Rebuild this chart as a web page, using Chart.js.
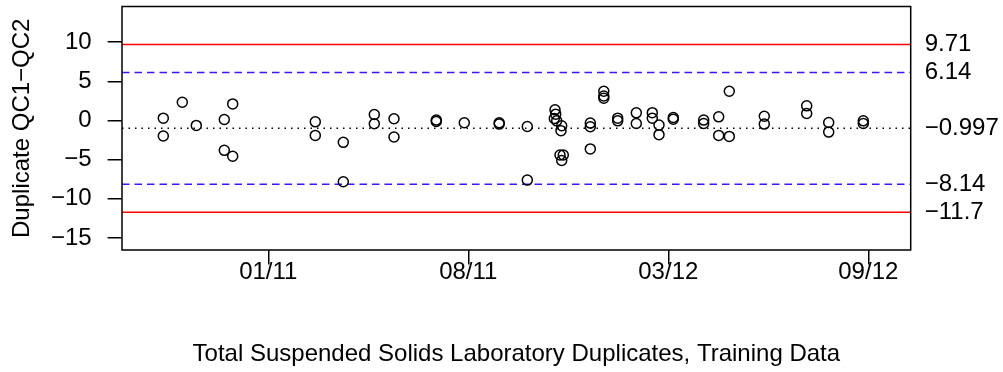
<!DOCTYPE html>
<html>
<head>
<meta charset="utf-8">
<script src="https://cdn.jsdelivr.net/npm/chart.js@4"></script>
<style>
  html, body { margin: 0; padding: 0; background: #fff; }
  #wrap { width: 1003px; height: 372px; }
</style>
</head>
<body>
<div id="wrap"><canvas id="qcChart" width="1003" height="372"></canvas></div>
<script>
// sample time, in units of the x tick spacing (0 = 01/11, 1 = 08/11, ...)
var sampleTime = [
  -0.525, -0.525, -0.43, -0.36, -0.22, -0.22, -0.178, -0.178,
  0.235, 0.235, 0.375, 0.375, 0.53, 0.53, 0.6285, 0.6285,
  0.84, 0.84, 0.98, 1.1545, 1.1545, 1.295, 1.295,
  1.4335, 1.437, 1.43, 1.442, 1.467, 1.4635, 1.4585, 1.475, 1.467,
  1.61, 1.61, 1.61, 1.6775, 1.6775, 1.6775, 1.747, 1.747,
  1.84, 1.84, 1.92, 1.92, 1.9535, 1.9535, 2.025, 2.025,
  2.177, 2.177, 2.252, 2.252, 2.305, 2.305, 2.48, 2.48,
  2.692, 2.692, 2.802, 2.802, 2.975, 2.975
];
// duplicate difference QC1 - QC2
var qcDiff = [
  0.3, -1.98, 2.33, -0.63, 0.13, -3.81, 2.12, -4.57,
  -0.17, -1.9, -2.79, -7.82, 0.76, -0.42, 0.22, -2.11,
  0.05, -0.13, -0.29, -0.29, -0.46, -0.76, -7.61,
  1.36, 0.81, 0.25, -0.04, -0.67, -1.3, -4.4, -4.4, -5.1,
  -0.33, -0.8, -3.63, 3.73, 3.13, 2.84, 0.3, -0.04,
  0.98, -0.38, 1.0, 0.3, -0.59, -1.81, 0.38, 0.17,
  0.05, -0.38, 0.47, -1.9, 3.73, -2.03, 0.55, -0.46,
  1.87, 0.89, -0.25, -1.48, -0.04, -0.38
];

var xTickPos = [0, 1, 2, 3];
var xTickLabels = ['01/11', '08/11', '03/12', '09/12'];
var yTickPos = [-15, -10, -5, 0, 5, 10];

// control limits
var centerLine = -0.997;
var warnLimits = [6.14, -8.14];
var ctrlLimits = [9.71, -11.7];
var limitLabels = ['9.71', '6.14', '\u22120.997', '\u22128.14', '\u221211.7'];
var limitValues = [9.71, 6.14, -0.997, -8.14, -11.7];

var X_MIN = -0.7315, X_MAX = 3.212;
var Y_MIN = -16.535, Y_MAX = 14.556;

var FONT = { family: '"Liberation Sans", Arial, Helvetica, sans-serif', size: 24 };

function minus(v) { return String(v).replace('-', '\u2212'); }

function hline(v, color, dash) {
  return {
    type: 'line',
    data: [{ x: X_MIN, y: v }, { x: X_MAX, y: v }],
    borderColor: color,
    borderWidth: 1.5,
    borderDash: dash,
    pointRadius: 0,
    fill: false
  };
}

// no extra room for half labels, the plot box is fixed
function noPad(s) { s.paddingTop = 0; s.paddingBottom = 0; s.paddingLeft = 0; s.paddingRight = 0; }

var points = sampleTime.map(function(t, i) { return { x: t, y: qcDiff[i] }; });

var datasets = [{
  type: 'scatter',
  data: points,
  borderColor: '#000',
  backgroundColor: 'rgba(0,0,0,0)',
  borderWidth: 1.5,
  pointRadius: 5,
  pointHoverRadius: 5
}];
ctrlLimits.forEach(function(v) { datasets.push(hline(v, '#ff0000', [])); });
warnLimits.forEach(function(v) { datasets.push(hline(v, '#4212ff', [7.5, 5])); });
datasets.push(hline(centerLine, '#000', [1.5, 5]));

// box round the plot region, R style
var boxPlugin = {
  id: 'box',
  afterDraw: function(chart) {
    var a = chart.chartArea, c = chart.ctx;
    c.save();
    c.strokeStyle = '#000';
    c.lineWidth = 1.5;
    c.strokeRect(a.left, a.top, a.right - a.left, a.bottom - a.top);
    c.restore();
  }
};

new Chart(document.getElementById('qcChart').getContext('2d'), {
  data: { datasets: datasets },
  options: {
    responsive: false,
    animation: false,
    devicePixelRatio: 1,
    layout: { padding: { top: 5, left: 0, right: 0, bottom: 0 } },
    plugins: { legend: { display: false }, tooltip: { enabled: false } },
    scales: {
      x: {
        type: 'linear', position: 'bottom', min: X_MIN, max: X_MAX,
        afterBuildTicks: function(s) { s.ticks = xTickPos.map(function(v) { return { value: v }; }); },
        afterFit: function(s) { s.height = 122; noPad(s); },
        grid: { drawOnChartArea: false, drawTicks: true, tickLength: 14.4, color: '#000', lineWidth: 1.5 },
        border: { display: false },
        ticks: {
          color: '#000', font: FONT, padding: -6, maxRotation: 0, autoSkip: false,
          callback: function(v) { return xTickLabels[xTickPos.indexOf(v)]; }
        },
        title: {
          display: true, text: 'Total Suspended Solids Laboratory Duplicates, Training Data',
          color: '#000', font: FONT, padding: { top: 0, bottom: 3 }
        }
      },
      y: {
        type: 'linear', position: 'left', min: Y_MIN, max: Y_MAX,
        afterBuildTicks: function(s) { s.ticks = yTickPos.map(function(v) { return { value: v }; }); },
        afterFit: function(s) { s.width = 122; noPad(s); },
        grid: { drawOnChartArea: false, drawTicks: true, tickLength: 14.4, color: '#000', lineWidth: 1.5 },
        border: { display: false },
        ticks: { color: '#000', font: FONT, padding: 16, callback: function(v) { return minus(v); } },
        title: {
          display: true, text: 'Duplicate QC1\u2212QC2',
          color: '#000', font: FONT, padding: { top: 8, bottom: 0 }
        }
      },
      yRight: {
        type: 'linear', position: 'right', min: Y_MIN, max: Y_MAX,
        afterBuildTicks: function(s) { s.ticks = limitValues.map(function(v) { return { value: v }; }); },
        afterFit: function(s) { s.width = 92.3; noPad(s); },
        grid: { display: false, drawTicks: false },
        border: { display: false },
        ticks: {
          color: '#000', font: FONT, padding: 14,
          callback: function(v) { return limitLabels[limitValues.indexOf(v)]; }
        }
      }
    }
  },
  plugins: [boxPlugin]
});
</script>
</body>
</html>
